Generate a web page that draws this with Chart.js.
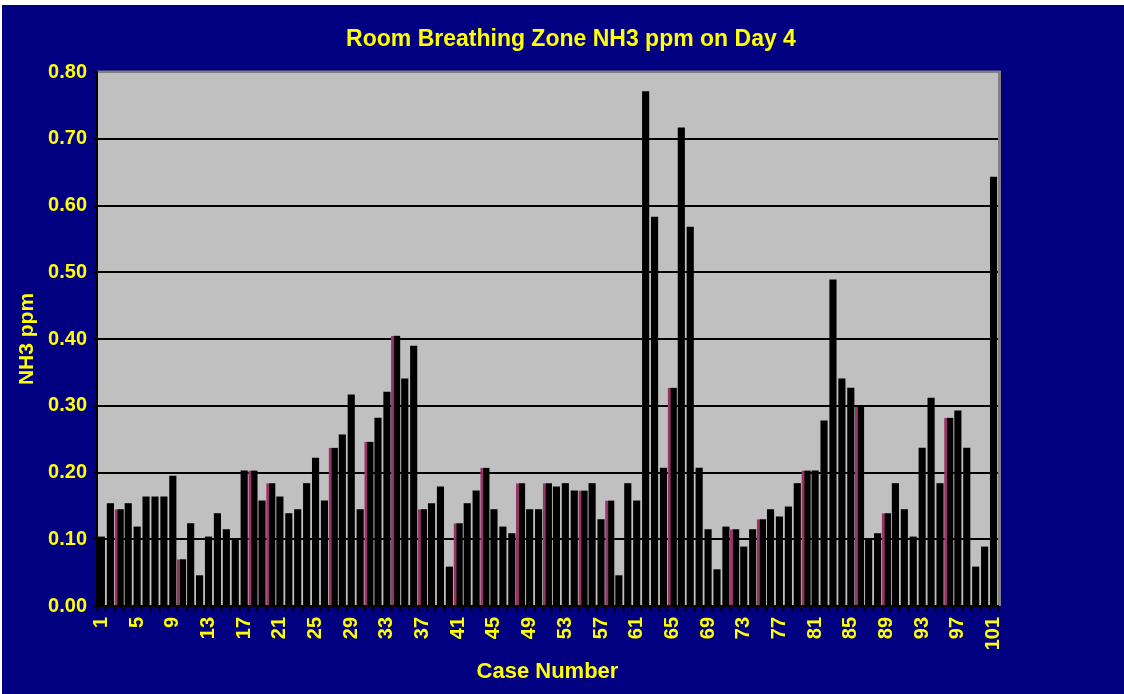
<!DOCTYPE html>
<html>
<head>
<meta charset="utf-8">
<title>Room Breathing Zone NH3 ppm on Day 4</title>
<script src="https://cdn.jsdelivr.net/npm/chart.js@4/dist/chart.umd.min.js"></script>
<style>
  html, body { margin: 0; padding: 0; background: #ffffff; }
  canvas { display: block; }
</style>
</head>
<body>
<canvas id="nh3Chart" width="1124" height="694"></canvas>
<script>
// chart data
const chartTitle = 'Room Breathing Zone NH3 ppm on Day 4';

const caseNumbers = [
    '1', '2', '3', '4', '5', '6', '7', '8', '9', '10',
    '11', '12', '13', '14', '15', '16', '17', '18', '19', '20',
    '21', '22', '23', '24', '25', '26', '27', '28', '29', '30',
    '31', '32', '33', '34', '35', '36', '37', '38', '39', '40',
    '41', '42', '43', '44', '45', '46', '47', '48', '49', '50',
    '51', '52', '53', '54', '55', '56', '57', '58', '59', '60',
    '61', '62', '63', '64', '65', '66', '67', '68', '69', '70',
    '71', '72', '73', '74', '75', '76', '77', '78', '79', '80',
    '81', '82', '83', '84', '85', '86', '87', '88', '89', '90',
    '91', '92', '93', '94', '95', '96', '97', '98', '99', '100',
    '101'
];

const nh3Ppm = [
    0.104, 0.154, 0.145, 0.154, 0.119, 0.164, 0.164, 0.164, 0.195, 0.070,
    0.124, 0.046, 0.104, 0.139, 0.115, 0.100, 0.203, 0.203, 0.158, 0.184,
    0.164, 0.139, 0.145, 0.184, 0.222, 0.158, 0.237, 0.257, 0.317, 0.145,
    0.246, 0.282, 0.321, 0.405, 0.341, 0.390, 0.145, 0.154, 0.179, 0.059,
    0.124, 0.154, 0.173, 0.207, 0.145, 0.119, 0.109, 0.184, 0.145, 0.145,
    0.184, 0.179, 0.184, 0.173, 0.173, 0.184, 0.130, 0.158, 0.046, 0.184,
    0.158, 0.771, 0.583, 0.207, 0.327, 0.717, 0.568, 0.207, 0.115, 0.055,
    0.119, 0.115, 0.089, 0.115, 0.130, 0.145, 0.134, 0.149, 0.184, 0.203,
    0.203, 0.278, 0.489, 0.341, 0.327, 0.298, 0.100, 0.109, 0.139, 0.184,
    0.145, 0.104, 0.237, 0.312, 0.184, 0.282, 0.293, 0.237, 0.059, 0.089,
    0.643
];

// cases whose bar shows the maroon edge
const flaggedCases = [3, 10, 18, 20, 27, 31, 34, 37, 41, 44, 48, 51, 55, 58, 65, 72, 75, 80, 86, 89, 96];

const xTickLabels = ['1', '5', '9', '13', '17', '21', '25', '29', '33', '37', '41', '45', '49',
    '53', '57', '61', '65', '69', '73', '77', '81', '85', '89', '93', '97', '101'];
const yTickValues = [0, 0.1, 0.2, 0.3, 0.4, 0.5, 0.6, 0.7, 0.8];

const NAVY = '#000080';
const YELLOW = '#ffff00';
const PLOT_GRAY = '#c0c0c0';
const BORDER_GRAY = '#808080';
const MAROON = '#993366';
const FONT = "'Liberation Sans', Arial, sans-serif";

const plainValues = nh3Ppm.map((v, i) => flaggedCases.includes(i + 1) ? null : v);
const flaggedValues = nh3Ppm.map((v, i) => flaggedCases.includes(i + 1) ? v : null);

// navy frame, grey plot area and the title
const backdrop = {
    id: 'backdrop',
    beforeDraw(chart) {
        const { ctx, chartArea: a } = chart;
        ctx.save();
        ctx.fillStyle = '#ffffff';
        ctx.fillRect(0, 0, chart.width, chart.height);
        ctx.fillStyle = NAVY;
        ctx.fillRect(2, 5, chart.width - 2, chart.height - 5);
        ctx.fillStyle = BORDER_GRAY;
        ctx.fillRect(a.left, a.top - 1.5, a.right - a.left + 3, a.bottom - a.top + 1.5);
        ctx.fillStyle = PLOT_GRAY;
        ctx.fillRect(a.left, a.top + 1, a.right - a.left, a.bottom - a.top - 1);
        ctx.restore();
    },
    afterDraw(chart) {
        const { ctx } = chart;
        ctx.save();
        ctx.fillStyle = YELLOW;
        ctx.font = `bold 23px ${FONT}`;
        ctx.textAlign = 'center';
        ctx.textBaseline = 'middle';
        ctx.fillText(chartTitle, 571, 40);
        ctx.restore();
    }
};

new Chart(document.getElementById('nh3Chart'), {
    type: 'bar',
    data: {
        labels: caseNumbers,
        datasets: [{
            label: 'NH3 ppm',
            data: plainValues,
            backgroundColor: '#000000',
            borderWidth: 0,
            barPercentage: 0.8,
            categoryPercentage: 1.0,
            grouped: false
        }, {
            label: 'NH3 ppm (flagged)',
            data: flaggedValues,
            backgroundColor: '#000000',
            borderColor: MAROON,
            borderWidth: { left: 3, right: 0, top: 0, bottom: 0 },
            borderSkipped: false,
            barPercentage: 1.0,
            categoryPercentage: 1.0,
            grouped: false
        }]
    },
    options: {
        responsive: false,
        animation: false,
        devicePixelRatio: 1,
        layout: {
            padding: { top: 72, right: 126, left: 0, bottom: 0 }
        },
        plugins: {
            legend: { display: false },
            title: { display: false },
            tooltip: { enabled: false }
        },
        scales: {
            x: {
                grid: {
                    display: true,
                    drawOnChartArea: false,
                    drawTicks: true,
                    tickLength: 6,
                    tickColor: '#000000',
                    tickWidth: 2,
                    offset: true
                },
                border: { display: true, color: '#000000', width: 2 },
                ticks: {
                    autoSkip: false,
                    minRotation: 90,
                    maxRotation: 90,
                    padding: 5,
                    color: YELLOW,
                    font: { family: FONT, size: 20, weight: 'bold' },
                    callback: function(value, index) {
                        const lbl = caseNumbers[index];
                        return xTickLabels.includes(lbl) ? lbl : '';
                    }
                },
                title: {
                    display: true,
                    text: 'Case Number',
                    color: YELLOW,
                    font: { family: FONT, size: 22, weight: 'bold' },
                    padding: { top: 0, bottom: 9 }
                },
                afterFit: scale => { scale.height = 88; }
            },
            y: {
                min: 0,
                max: 0.8,
                afterBuildTicks: scale => {
                    scale.ticks = yTickValues.map(v => ({ value: v }));
                },
                grid: {
                    color: ctx => (ctx.tick && Math.abs(ctx.tick.value - 0.8) < 1e-6) ? BORDER_GRAY : '#000000',
                    lineWidth: 2,
                    tickLength: 4,
                    tickColor: '#000000',
                    tickWidth: 2
                },
                border: { display: true, color: '#000000', width: 2 },
                ticks: {
                    padding: 6,
                    color: YELLOW,
                    font: { family: FONT, size: 20, weight: 'bold' },
                    callback: value => Number(value).toFixed(2)
                },
                title: {
                    display: true,
                    text: 'NH3 ppm',
                    color: YELLOW,
                    font: { family: FONT, size: 21, weight: 'bold' },
                    padding: { top: 15, bottom: 0 }
                },
                afterFit: scale => { scale.width = 97; }
            }
        }
    },
    plugins: [backdrop]
});
</script>
</body>
</html>
